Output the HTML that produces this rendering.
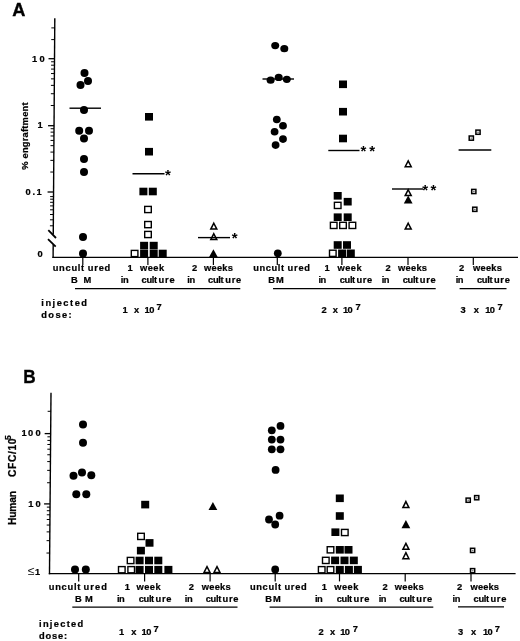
<!DOCTYPE html>
<html><head><meta charset="utf-8"><title>Figure</title>
<style>
html,body{margin:0;padding:0;background:#fff;}
.b{stroke:#000;stroke-width:0.22px;}
svg{display:block;font-family:"Liberation Sans",sans-serif;fill:#000;opacity:0.999;will-change:transform;}
</style></head>
<body>
<svg width="520" height="641" viewBox="0 0 520 641" shape-rendering="geometricPrecision">
<rect x="0" y="0" width="520" height="641" fill="#fff"/>
<line x1="54.80" y1="18.20" x2="53.26" y2="234.60" stroke="#000" stroke-width="1.4"/>
<line x1="53.19" y1="244.40" x2="53.10" y2="257.95" stroke="#000" stroke-width="1.4"/>
<line x1="52.40" y1="257.30" x2="518.00" y2="257.30" stroke="#000" stroke-width="1.3"/>
<line x1="48.04" y1="125.70" x2="54.04" y2="125.70" stroke="#000" stroke-width="1.3"/>
<line x1="47.56" y1="192.00" x2="53.56" y2="192.00" stroke="#000" stroke-width="1.3"/>
<line x1="50.78" y1="105.53" x2="54.18" y2="105.53" stroke="#000" stroke-width="1.0"/>
<line x1="50.31" y1="172.04" x2="53.71" y2="172.04" stroke="#000" stroke-width="1.0"/>
<line x1="50.86" y1="93.73" x2="54.26" y2="93.73" stroke="#000" stroke-width="1.0"/>
<line x1="50.39" y1="160.37" x2="53.79" y2="160.37" stroke="#000" stroke-width="1.0"/>
<line x1="50.92" y1="85.36" x2="54.32" y2="85.36" stroke="#000" stroke-width="1.0"/>
<line x1="50.45" y1="152.08" x2="53.85" y2="152.08" stroke="#000" stroke-width="1.0"/>
<line x1="50.97" y1="78.87" x2="54.37" y2="78.87" stroke="#000" stroke-width="1.0"/>
<line x1="50.49" y1="145.66" x2="53.89" y2="145.66" stroke="#000" stroke-width="1.0"/>
<line x1="51.01" y1="73.56" x2="54.41" y2="73.56" stroke="#000" stroke-width="1.0"/>
<line x1="50.53" y1="140.41" x2="53.93" y2="140.41" stroke="#000" stroke-width="1.0"/>
<line x1="51.04" y1="69.08" x2="54.44" y2="69.08" stroke="#000" stroke-width="1.0"/>
<line x1="50.56" y1="135.97" x2="53.96" y2="135.97" stroke="#000" stroke-width="1.0"/>
<line x1="51.07" y1="65.19" x2="54.47" y2="65.19" stroke="#000" stroke-width="1.0"/>
<line x1="50.59" y1="132.13" x2="53.99" y2="132.13" stroke="#000" stroke-width="1.0"/>
<line x1="51.09" y1="61.77" x2="54.49" y2="61.77" stroke="#000" stroke-width="1.0"/>
<line x1="50.61" y1="128.73" x2="54.01" y2="128.73" stroke="#000" stroke-width="1.0"/>
<line x1="48.51" y1="58.70" x2="54.51" y2="58.70" stroke="#000" stroke-width="1.3"/>
<line x1="51.25" y1="39.60" x2="54.65" y2="39.60" stroke="#000" stroke-width="1.0"/>
<line x1="51.33" y1="27.90" x2="54.73" y2="27.90" stroke="#000" stroke-width="1.0"/>
<line x1="50.13" y1="196.60" x2="53.53" y2="196.60" stroke="#000" stroke-width="1.0"/>
<line x1="50.11" y1="199.20" x2="53.51" y2="199.20" stroke="#000" stroke-width="1.0"/>
<line x1="50.09" y1="202.30" x2="53.49" y2="202.30" stroke="#000" stroke-width="1.0"/>
<line x1="50.07" y1="205.90" x2="53.47" y2="205.90" stroke="#000" stroke-width="1.0"/>
<line x1="50.04" y1="209.80" x2="53.44" y2="209.80" stroke="#000" stroke-width="1.0"/>
<line x1="50.00" y1="214.50" x2="53.40" y2="214.50" stroke="#000" stroke-width="1.0"/>
<line x1="49.97" y1="219.80" x2="53.37" y2="219.80" stroke="#000" stroke-width="1.0"/>
<line x1="49.92" y1="225.80" x2="53.32" y2="225.80" stroke="#000" stroke-width="1.0"/>
<line x1="48.30" y1="230.20" x2="56.00" y2="238.00" stroke="#000" stroke-width="1.8"/>
<line x1="48.00" y1="239.10" x2="55.70" y2="246.70" stroke="#000" stroke-width="1.8"/>
<text y="61.50" font-size="9.3" font-weight="bold" class="b"><tspan x="32.00">1</tspan><tspan x="39.60">0</tspan></text>
<text x="37.60" y="128.10" font-size="9.3" font-weight="bold" class="b" >1</text>
<text y="194.70" font-size="9.3" font-weight="bold" class="b"><tspan x="25.40">0</tspan><tspan x="32.50">.</tspan><tspan x="36.60">1</tspan></text>
<text x="37.60" y="257.20" font-size="9.3" font-weight="bold" class="b" >0</text>
<text transform="translate(28.1,169.8) rotate(-90)" class="b" font-size="9.4" font-weight="bold" textLength="67.4" lengthAdjust="spacing">% engraftment</text>
<text x="12.3" y="15.6" font-size="18.2" font-weight="bold" stroke="#000" stroke-width="0.35">A</text>
<ellipse cx="84.5" cy="73.0" rx="4.0" ry="4.0" fill="#000"/>
<ellipse cx="88.0" cy="81.0" rx="4.0" ry="4.0" fill="#000"/>
<ellipse cx="80.5" cy="85.0" rx="4.0" ry="4.0" fill="#000"/>
<ellipse cx="84.0" cy="110.0" rx="4.0" ry="4.0" fill="#000"/>
<ellipse cx="79.2" cy="130.8" rx="4.0" ry="4.0" fill="#000"/>
<ellipse cx="89.0" cy="130.8" rx="4.0" ry="4.0" fill="#000"/>
<ellipse cx="84.0" cy="138.5" rx="4.0" ry="4.0" fill="#000"/>
<ellipse cx="84.0" cy="159.0" rx="4.0" ry="4.0" fill="#000"/>
<ellipse cx="84.0" cy="172.0" rx="4.0" ry="4.0" fill="#000"/>
<ellipse cx="83.0" cy="237.0" rx="4.0" ry="4.0" fill="#000"/>
<ellipse cx="83.0" cy="253.5" rx="4.0" ry="4.0" fill="#000"/>
<line x1="69.50" y1="108.20" x2="101.00" y2="108.20" stroke="#000" stroke-width="1.4"/>
<rect x="145.00" y="113.00" width="8.0" height="7.6" fill="#000"/>
<rect x="145.00" y="147.90" width="8.0" height="7.6" fill="#000"/>
<rect x="139.40" y="187.70" width="8.0" height="7.6" fill="#000"/>
<rect x="148.80" y="187.70" width="8.0" height="7.6" fill="#000"/>
<rect x="144.70" y="206.40" width="6.60" height="6.20" fill="#fff" stroke="#000" stroke-width="1.4"/>
<rect x="144.70" y="221.50" width="6.60" height="6.20" fill="#fff" stroke="#000" stroke-width="1.4"/>
<rect x="144.70" y="231.40" width="6.60" height="6.20" fill="#fff" stroke="#000" stroke-width="1.4"/>
<rect x="131.30" y="250.40" width="6.60" height="6.20" fill="#fff" stroke="#000" stroke-width="1.4"/>
<rect x="140.10" y="241.80" width="8.0" height="7.6" fill="#000"/>
<rect x="149.70" y="241.80" width="8.0" height="7.6" fill="#000"/>
<rect x="140.10" y="249.70" width="8.0" height="7.6" fill="#000"/>
<rect x="149.70" y="249.70" width="8.0" height="7.6" fill="#000"/>
<rect x="158.70" y="249.70" width="8.0" height="7.6" fill="#000"/>
<line x1="132.50" y1="173.70" x2="164.50" y2="173.70" stroke="#000" stroke-width="1.4"/>
<polygon points="213.80,223.25 216.80,229.05 210.80,229.05" fill="#fff" stroke="#000" stroke-width="1.5" stroke-linejoin="miter"/>
<polygon points="213.80,233.75 216.80,239.55 210.80,239.55" fill="#fff" stroke="#000" stroke-width="1.5" stroke-linejoin="miter"/>
<polygon points="213.40,249.20 217.80,257.20 209.00,257.20" fill="#000"/>
<line x1="198.00" y1="237.60" x2="230.00" y2="237.60" stroke="#000" stroke-width="1.4"/>
<ellipse cx="275.2" cy="45.6" rx="4.0" ry="3.6" fill="#000"/>
<ellipse cx="284.3" cy="48.7" rx="4.0" ry="3.6" fill="#000"/>
<ellipse cx="270.6" cy="80.2" rx="4.0" ry="3.6" fill="#000"/>
<ellipse cx="278.7" cy="77.4" rx="4.0" ry="3.6" fill="#000"/>
<ellipse cx="286.8" cy="79.3" rx="4.0" ry="3.6" fill="#000"/>
<ellipse cx="276.8" cy="119.5" rx="3.9" ry="3.8" fill="#000"/>
<ellipse cx="283.0" cy="125.7" rx="3.9" ry="3.8" fill="#000"/>
<ellipse cx="274.6" cy="131.7" rx="3.9" ry="3.8" fill="#000"/>
<ellipse cx="283.0" cy="139.1" rx="3.9" ry="3.8" fill="#000"/>
<ellipse cx="275.6" cy="145.1" rx="3.9" ry="3.8" fill="#000"/>
<ellipse cx="277.8" cy="253.3" rx="3.9" ry="3.8" fill="#000"/>
<line x1="262.50" y1="79.00" x2="294.00" y2="79.00" stroke="#000" stroke-width="1.4"/>
<rect x="339.00" y="80.50" width="8.0" height="7.6" fill="#000"/>
<rect x="339.00" y="107.90" width="8.0" height="7.6" fill="#000"/>
<rect x="339.00" y="134.70" width="8.0" height="7.6" fill="#000"/>
<rect x="333.70" y="192.00" width="8.0" height="7.6" fill="#000"/>
<rect x="343.70" y="197.90" width="8.0" height="7.6" fill="#000"/>
<rect x="333.70" y="213.40" width="8.0" height="7.6" fill="#000"/>
<rect x="343.70" y="213.40" width="8.0" height="7.6" fill="#000"/>
<rect x="333.70" y="241.20" width="8.0" height="7.6" fill="#000"/>
<rect x="343.00" y="241.20" width="8.0" height="7.6" fill="#000"/>
<rect x="338.10" y="249.50" width="8.0" height="7.6" fill="#000"/>
<rect x="346.80" y="249.50" width="8.0" height="7.6" fill="#000"/>
<rect x="334.40" y="202.30" width="6.60" height="6.20" fill="#fff" stroke="#000" stroke-width="1.4"/>
<rect x="330.40" y="222.30" width="6.60" height="6.20" fill="#fff" stroke="#000" stroke-width="1.4"/>
<rect x="339.70" y="222.30" width="6.60" height="6.20" fill="#fff" stroke="#000" stroke-width="1.4"/>
<rect x="349.10" y="222.30" width="6.60" height="6.20" fill="#fff" stroke="#000" stroke-width="1.4"/>
<rect x="329.50" y="250.20" width="6.60" height="6.20" fill="#fff" stroke="#000" stroke-width="1.4"/>
<line x1="328.30" y1="150.50" x2="359.50" y2="150.50" stroke="#000" stroke-width="1.4"/>
<polygon points="408.20,160.95 411.20,166.75 405.20,166.75" fill="#fff" stroke="#000" stroke-width="1.5" stroke-linejoin="miter"/>
<polygon points="408.20,189.75 411.20,195.55 405.20,195.55" fill="#fff" stroke="#000" stroke-width="1.5" stroke-linejoin="miter"/>
<polygon points="408.20,195.40 412.60,203.40 403.80,203.40" fill="#000"/>
<polygon points="408.20,223.25 411.20,229.05 405.20,229.05" fill="#fff" stroke="#000" stroke-width="1.5" stroke-linejoin="miter"/>
<line x1="392.00" y1="189.00" x2="423.00" y2="189.00" stroke="#000" stroke-width="1.4"/>
<rect x="475.90" y="130.10" width="4.20" height="4.20" fill="#fff" stroke="#000" stroke-width="1.5"/>
<rect x="477.20" y="131.60" width="1.7" height="1.3" fill="#777"/>
<rect x="469.20" y="136.00" width="4.20" height="4.20" fill="#fff" stroke="#000" stroke-width="1.5"/>
<rect x="470.50" y="137.50" width="1.7" height="1.3" fill="#777"/>
<rect x="471.70" y="189.40" width="4.20" height="4.20" fill="#fff" stroke="#000" stroke-width="1.5"/>
<rect x="473.00" y="190.90" width="1.7" height="1.3" fill="#777"/>
<rect x="472.70" y="207.20" width="4.20" height="4.20" fill="#fff" stroke="#000" stroke-width="1.5"/>
<rect x="474.00" y="208.70" width="1.7" height="1.3" fill="#777"/>
<line x1="458.60" y1="150.00" x2="491.30" y2="150.00" stroke="#000" stroke-width="1.4"/>
<text x="167.90" y="180.10" font-size="15" font-weight="bold" text-anchor="middle">*</text>
<text x="234.60" y="242.80" font-size="15" font-weight="bold" text-anchor="middle">*</text>
<text y="155.60" font-size="15" font-weight="bold" text-anchor="middle"><tspan x="363.40">*</tspan><tspan x="372.10">*</tspan></text>
<text y="194.60" font-size="15" font-weight="bold" text-anchor="middle"><tspan x="425.20">*</tspan><tspan x="433.50">*</tspan></text>
<line x1="82.80" y1="257.30" x2="82.80" y2="265.10" stroke="#000" stroke-width="1.2"/>
<line x1="147.90" y1="257.30" x2="147.90" y2="265.10" stroke="#000" stroke-width="1.2"/>
<line x1="213.40" y1="257.30" x2="213.40" y2="265.10" stroke="#000" stroke-width="1.2"/>
<line x1="277.30" y1="257.30" x2="277.30" y2="265.10" stroke="#000" stroke-width="1.2"/>
<line x1="341.90" y1="257.30" x2="341.90" y2="265.10" stroke="#000" stroke-width="1.2"/>
<line x1="408.00" y1="257.30" x2="408.00" y2="265.10" stroke="#000" stroke-width="1.2"/>
<line x1="473.30" y1="257.30" x2="473.30" y2="265.10" stroke="#000" stroke-width="1.2"/>
<text y="270.70" font-size="9.3" font-weight="bold" class="b"><tspan x="52.70" textLength="31.50" lengthAdjust="spacing">uncult</tspan><tspan x="87.70" textLength="22.60" lengthAdjust="spacing">ured</tspan></text>
<text y="282.90" font-size="9.3" font-weight="bold" class="b"><tspan x="71.00">B</tspan><tspan x="83.60">M</tspan></text>
<text y="270.70" font-size="9.3" font-weight="bold" class="b"><tspan x="127.60">1</tspan> <tspan x="140.00" textLength="24.20" lengthAdjust="spacing">week</tspan></text>
<text y="282.90" font-size="9.3" font-weight="bold" class="b"><tspan x="120.80" textLength="7.80" lengthAdjust="spacing">in</tspan> <tspan x="141.60" textLength="15.40" lengthAdjust="spacing">cult</tspan><tspan x="158.50" textLength="16.10" lengthAdjust="spacing">ure</tspan></text>
<text y="270.70" font-size="9.3" font-weight="bold" class="b"><tspan x="192.00">2</tspan> <tspan x="204.00" textLength="28.90" lengthAdjust="spacing">weeks</tspan></text>
<text y="282.90" font-size="9.3" font-weight="bold" class="b"><tspan x="187.30" textLength="7.80" lengthAdjust="spacing">in</tspan> <tspan x="208.10" textLength="15.50" lengthAdjust="spacing">cult</tspan><tspan x="225.20" textLength="16.00" lengthAdjust="spacing">ure</tspan></text>
<text y="270.70" font-size="9.3" font-weight="bold" class="b"><tspan x="253.20" textLength="30.80" lengthAdjust="spacing">uncult</tspan><tspan x="287.60" textLength="22.40" lengthAdjust="spacing">ured</tspan></text>
<text y="282.90" font-size="9.3" font-weight="bold" class="b"><tspan x="268.30">B</tspan><tspan x="276.00">M</tspan></text>
<text y="270.70" font-size="9.3" font-weight="bold" class="b"><tspan x="324.40">1</tspan> <tspan x="337.60" textLength="24.00" lengthAdjust="spacing">week</tspan></text>
<text y="282.90" font-size="9.3" font-weight="bold" class="b"><tspan x="318.50" textLength="7.80" lengthAdjust="spacing">in</tspan> <tspan x="339.80" textLength="15.40" lengthAdjust="spacing">cult</tspan><tspan x="356.60" textLength="15.60" lengthAdjust="spacing">ure</tspan></text>
<text y="270.70" font-size="9.3" font-weight="bold" class="b"><tspan x="385.60">2</tspan> <tspan x="398.10" textLength="28.90" lengthAdjust="spacing">weeks</tspan></text>
<text y="282.90" font-size="9.3" font-weight="bold" class="b"><tspan x="381.70" textLength="7.80" lengthAdjust="spacing">in</tspan> <tspan x="402.80" textLength="15.50" lengthAdjust="spacing">cult</tspan><tspan x="419.80" textLength="15.80" lengthAdjust="spacing">ure</tspan></text>
<text y="270.70" font-size="9.3" font-weight="bold" class="b"><tspan x="459.10">2</tspan> <tspan x="473.00" textLength="28.90" lengthAdjust="spacing">weeks</tspan></text>
<text y="282.90" font-size="9.3" font-weight="bold" class="b"><tspan x="455.70" textLength="7.80" lengthAdjust="spacing">in</tspan> <tspan x="477.00" textLength="15.50" lengthAdjust="spacing">cult</tspan><tspan x="494.00" textLength="15.80" lengthAdjust="spacing">ure</tspan></text>
<line x1="75.00" y1="288.60" x2="240.30" y2="288.60" stroke="#000" stroke-width="1.25"/>
<line x1="273.00" y1="288.60" x2="435.70" y2="288.60" stroke="#000" stroke-width="1.25"/>
<line x1="459.60" y1="288.60" x2="506.50" y2="288.60" stroke="#000" stroke-width="1.25"/>
<text y="305.60" font-size="9.3" font-weight="bold" class="b"><tspan x="41.30" textLength="45.70" lengthAdjust="spacing">injected</tspan></text>
<text y="317.90" font-size="9.3" font-weight="bold" class="b"><tspan x="41.30" textLength="30.30" lengthAdjust="spacing">dose:</tspan></text>
<text y="313.40" font-size="9.3" font-weight="bold" class="b"><tspan x="122.60">1</tspan> <tspan x="134.00">x</tspan> <tspan x="144.60">1</tspan><tspan x="149.20">0</tspan><tspan x="156.60" dy="-3">7</tspan></text>
<text y="313.40" font-size="9.3" font-weight="bold" class="b"><tspan x="321.40">2</tspan> <tspan x="332.80">x</tspan> <tspan x="343.00">1</tspan><tspan x="347.60">0</tspan><tspan x="355.40" dy="-3">7</tspan></text>
<text y="313.40" font-size="9.3" font-weight="bold" class="b"><tspan x="460.60">3</tspan> <tspan x="473.80">x</tspan> <tspan x="485.20">1</tspan><tspan x="489.80">0</tspan><tspan x="497.40" dy="-3">7</tspan></text>
<line x1="51.00" y1="392.80" x2="49.49" y2="574.25" stroke="#000" stroke-width="1.4"/>
<line x1="48.80" y1="573.60" x2="515.60" y2="573.60" stroke="#000" stroke-width="1.3"/>
<line x1="46.47" y1="553.04" x2="49.67" y2="553.04" stroke="#000" stroke-width="1.0"/>
<line x1="46.57" y1="540.66" x2="49.77" y2="540.66" stroke="#000" stroke-width="1.0"/>
<line x1="46.64" y1="531.88" x2="49.84" y2="531.88" stroke="#000" stroke-width="1.0"/>
<line x1="46.70" y1="525.06" x2="49.90" y2="525.06" stroke="#000" stroke-width="1.0"/>
<line x1="46.75" y1="519.50" x2="49.95" y2="519.50" stroke="#000" stroke-width="1.0"/>
<line x1="46.79" y1="514.79" x2="49.99" y2="514.79" stroke="#000" stroke-width="1.0"/>
<line x1="46.82" y1="510.71" x2="50.02" y2="510.71" stroke="#000" stroke-width="1.0"/>
<line x1="46.85" y1="507.12" x2="50.05" y2="507.12" stroke="#000" stroke-width="1.0"/>
<line x1="44.08" y1="503.90" x2="50.08" y2="503.90" stroke="#000" stroke-width="1.3"/>
<line x1="47.05" y1="482.74" x2="50.25" y2="482.74" stroke="#000" stroke-width="1.0"/>
<line x1="47.16" y1="470.36" x2="50.36" y2="470.36" stroke="#000" stroke-width="1.0"/>
<line x1="47.23" y1="461.58" x2="50.43" y2="461.58" stroke="#000" stroke-width="1.0"/>
<line x1="47.29" y1="454.76" x2="50.49" y2="454.76" stroke="#000" stroke-width="1.0"/>
<line x1="47.33" y1="449.20" x2="50.53" y2="449.20" stroke="#000" stroke-width="1.0"/>
<line x1="47.37" y1="444.49" x2="50.57" y2="444.49" stroke="#000" stroke-width="1.0"/>
<line x1="47.40" y1="440.41" x2="50.60" y2="440.41" stroke="#000" stroke-width="1.0"/>
<line x1="47.43" y1="436.82" x2="50.63" y2="436.82" stroke="#000" stroke-width="1.0"/>
<line x1="44.66" y1="433.60" x2="50.66" y2="433.60" stroke="#000" stroke-width="1.3"/>
<line x1="47.65" y1="411.30" x2="50.85" y2="411.30" stroke="#000" stroke-width="1.0"/>
<text y="436.20" font-size="9.3" font-weight="bold" class="b"><tspan x="21.60">1</tspan><tspan x="28.10">0</tspan><tspan x="35.60">0</tspan></text>
<text y="506.70" font-size="9.3" font-weight="bold" class="b"><tspan x="28.20">1</tspan><tspan x="35.50">0</tspan></text>
<text y="574.8" font-size="12.2"><tspan x="28.0">≤</tspan><tspan x="35.0" dy="0.4" font-size="9.2" font-weight="bold" class="b">1</tspan></text>
<text transform="translate(16.0,524.9) rotate(-90)" class="b" font-size="10.3" font-weight="bold"><tspan x="0" textLength="34.0" lengthAdjust="spacing">Human</tspan> <tspan x="47.9" textLength="38.6" lengthAdjust="spacing">CFC/10</tspan><tspan x="84.9" dy="-5.2" font-size="8.6">5</tspan></text>
<text x="23.3" y="383.0" font-size="18.6" font-weight="bold" stroke="#000" stroke-width="0.35" textLength="12.4" lengthAdjust="spacingAndGlyphs">B</text>
<ellipse cx="83.0" cy="424.5" rx="4.0" ry="4.0" fill="#000"/>
<ellipse cx="83.0" cy="442.8" rx="4.0" ry="4.0" fill="#000"/>
<ellipse cx="73.5" cy="475.8" rx="4.0" ry="4.0" fill="#000"/>
<ellipse cx="82.0" cy="472.5" rx="4.0" ry="4.0" fill="#000"/>
<ellipse cx="91.3" cy="475.3" rx="4.0" ry="4.0" fill="#000"/>
<ellipse cx="76.3" cy="494.3" rx="4.0" ry="4.0" fill="#000"/>
<ellipse cx="86.3" cy="494.3" rx="4.0" ry="4.0" fill="#000"/>
<ellipse cx="75.0" cy="569.4" rx="4.0" ry="4.0" fill="#000"/>
<ellipse cx="85.8" cy="569.4" rx="4.0" ry="4.0" fill="#000"/>
<rect x="141.20" y="500.80" width="8.0" height="7.6" fill="#000"/>
<rect x="145.50" y="539.10" width="8.0" height="7.6" fill="#000"/>
<rect x="136.90" y="546.80" width="8.0" height="7.6" fill="#000"/>
<rect x="135.60" y="556.70" width="8.0" height="7.6" fill="#000"/>
<rect x="145.00" y="556.70" width="8.0" height="7.6" fill="#000"/>
<rect x="154.30" y="556.70" width="8.0" height="7.6" fill="#000"/>
<rect x="135.60" y="565.90" width="8.0" height="7.6" fill="#000"/>
<rect x="145.00" y="565.90" width="8.0" height="7.6" fill="#000"/>
<rect x="154.30" y="565.90" width="8.0" height="7.6" fill="#000"/>
<rect x="164.40" y="565.90" width="8.0" height="7.6" fill="#000"/>
<rect x="137.70" y="533.30" width="6.60" height="6.20" fill="#fff" stroke="#000" stroke-width="1.4"/>
<rect x="127.30" y="557.40" width="6.60" height="6.20" fill="#fff" stroke="#000" stroke-width="1.4"/>
<rect x="118.50" y="566.60" width="6.60" height="6.20" fill="#fff" stroke="#000" stroke-width="1.4"/>
<rect x="127.90" y="566.60" width="6.60" height="6.20" fill="#fff" stroke="#000" stroke-width="1.4"/>
<polygon points="212.90,501.90 217.30,510.10 208.50,510.10" fill="#000"/>
<polygon points="207.00,566.65 210.00,572.45 204.00,572.45" fill="#fff" stroke="#000" stroke-width="1.5" stroke-linejoin="miter"/>
<polygon points="217.00,566.65 220.00,572.45 214.00,572.45" fill="#fff" stroke="#000" stroke-width="1.5" stroke-linejoin="miter"/>
<ellipse cx="280.5" cy="425.9" rx="3.9" ry="3.9" fill="#000"/>
<ellipse cx="271.8" cy="430.3" rx="3.9" ry="3.9" fill="#000"/>
<ellipse cx="271.8" cy="439.6" rx="3.9" ry="3.9" fill="#000"/>
<ellipse cx="280.5" cy="439.6" rx="3.9" ry="3.9" fill="#000"/>
<ellipse cx="271.8" cy="449.3" rx="3.9" ry="3.9" fill="#000"/>
<ellipse cx="280.5" cy="449.3" rx="3.9" ry="3.9" fill="#000"/>
<ellipse cx="275.6" cy="469.9" rx="3.9" ry="3.9" fill="#000"/>
<ellipse cx="279.6" cy="515.7" rx="3.9" ry="3.9" fill="#000"/>
<ellipse cx="269.0" cy="519.5" rx="3.9" ry="3.9" fill="#000"/>
<ellipse cx="275.2" cy="524.5" rx="3.9" ry="3.9" fill="#000"/>
<ellipse cx="275.2" cy="569.4" rx="3.9" ry="3.9" fill="#000"/>
<rect x="335.80" y="494.50" width="8.0" height="7.6" fill="#000"/>
<rect x="335.80" y="512.20" width="8.0" height="7.6" fill="#000"/>
<rect x="331.40" y="528.40" width="8.0" height="7.6" fill="#000"/>
<rect x="335.80" y="546.00" width="8.0" height="7.6" fill="#000"/>
<rect x="344.50" y="546.00" width="8.0" height="7.6" fill="#000"/>
<rect x="331.10" y="556.60" width="8.0" height="7.6" fill="#000"/>
<rect x="340.50" y="556.60" width="8.0" height="7.6" fill="#000"/>
<rect x="349.80" y="556.60" width="8.0" height="7.6" fill="#000"/>
<rect x="335.80" y="565.90" width="8.0" height="7.6" fill="#000"/>
<rect x="344.90" y="565.90" width="8.0" height="7.6" fill="#000"/>
<rect x="353.90" y="565.90" width="8.0" height="7.6" fill="#000"/>
<rect x="341.50" y="529.40" width="6.60" height="6.20" fill="#fff" stroke="#000" stroke-width="1.4"/>
<rect x="327.20" y="546.70" width="6.60" height="6.20" fill="#fff" stroke="#000" stroke-width="1.4"/>
<rect x="322.50" y="557.30" width="6.60" height="6.20" fill="#fff" stroke="#000" stroke-width="1.4"/>
<rect x="318.40" y="566.60" width="6.60" height="6.20" fill="#fff" stroke="#000" stroke-width="1.4"/>
<rect x="327.20" y="566.60" width="6.60" height="6.20" fill="#fff" stroke="#000" stroke-width="1.4"/>
<polygon points="405.90,501.55 408.90,507.55 402.90,507.55" fill="#fff" stroke="#000" stroke-width="1.5" stroke-linejoin="miter"/>
<polygon points="405.90,520.10 410.30,528.30 401.50,528.30" fill="#000"/>
<polygon points="405.90,543.35 408.90,549.35 402.90,549.35" fill="#fff" stroke="#000" stroke-width="1.5" stroke-linejoin="miter"/>
<polygon points="405.90,552.65 408.90,558.65 402.90,558.65" fill="#fff" stroke="#000" stroke-width="1.5" stroke-linejoin="miter"/>
<rect x="466.10" y="498.10" width="4.20" height="4.20" fill="#fff" stroke="#000" stroke-width="1.5"/>
<rect x="467.40" y="499.60" width="1.7" height="1.3" fill="#777"/>
<rect x="474.60" y="495.60" width="4.20" height="4.20" fill="#fff" stroke="#000" stroke-width="1.5"/>
<rect x="475.90" y="497.10" width="1.7" height="1.3" fill="#777"/>
<rect x="470.50" y="548.30" width="4.20" height="4.20" fill="#fff" stroke="#000" stroke-width="1.5"/>
<rect x="471.80" y="549.80" width="1.7" height="1.3" fill="#777"/>
<rect x="470.50" y="568.60" width="4.20" height="4.20" fill="#fff" stroke="#000" stroke-width="1.5"/>
<rect x="471.80" y="570.10" width="1.7" height="1.3" fill="#777"/>
<line x1="78.70" y1="573.60" x2="78.70" y2="581.40" stroke="#000" stroke-width="1.2"/>
<line x1="144.60" y1="573.60" x2="144.60" y2="581.40" stroke="#000" stroke-width="1.2"/>
<line x1="210.10" y1="573.60" x2="210.10" y2="581.40" stroke="#000" stroke-width="1.2"/>
<line x1="275.20" y1="573.60" x2="275.20" y2="581.40" stroke="#000" stroke-width="1.2"/>
<line x1="339.50" y1="573.60" x2="339.50" y2="581.40" stroke="#000" stroke-width="1.2"/>
<line x1="405.20" y1="573.60" x2="405.20" y2="581.40" stroke="#000" stroke-width="1.2"/>
<line x1="471.00" y1="573.60" x2="471.00" y2="581.40" stroke="#000" stroke-width="1.2"/>
<text y="589.80" font-size="9.3" font-weight="bold" class="b"><tspan x="48.80" textLength="31.50" lengthAdjust="spacing">uncult</tspan><tspan x="83.60" textLength="23.40" lengthAdjust="spacing">ured</tspan></text>
<text y="602.40" font-size="9.3" font-weight="bold" class="b"><tspan x="75.00">B</tspan><tspan x="84.90">M</tspan></text>
<text y="589.80" font-size="9.3" font-weight="bold" class="b"><tspan x="124.80">1</tspan> <tspan x="136.60" textLength="24.00" lengthAdjust="spacing">week</tspan></text>
<text y="602.40" font-size="9.3" font-weight="bold" class="b"><tspan x="117.00" textLength="7.80" lengthAdjust="spacing">in</tspan> <tspan x="138.80" textLength="15.40" lengthAdjust="spacing">cult</tspan><tspan x="155.60" textLength="15.80" lengthAdjust="spacing">ure</tspan></text>
<text y="589.80" font-size="9.3" font-weight="bold" class="b"><tspan x="188.80">2</tspan> <tspan x="201.80" textLength="28.90" lengthAdjust="spacing">weeks</tspan></text>
<text y="602.40" font-size="9.3" font-weight="bold" class="b"><tspan x="184.80" textLength="7.80" lengthAdjust="spacing">in</tspan> <tspan x="205.80" textLength="15.50" lengthAdjust="spacing">cult</tspan><tspan x="222.60" textLength="15.80" lengthAdjust="spacing">ure</tspan></text>
<text y="589.80" font-size="9.3" font-weight="bold" class="b"><tspan x="250.00" textLength="31.00" lengthAdjust="spacing">uncult</tspan><tspan x="284.40" textLength="22.40" lengthAdjust="spacing">ured</tspan></text>
<text y="602.40" font-size="9.3" font-weight="bold" class="b"><tspan x="265.30">B</tspan><tspan x="273.00">M</tspan></text>
<text y="589.80" font-size="9.3" font-weight="bold" class="b"><tspan x="321.70">1</tspan> <tspan x="334.30" textLength="24.00" lengthAdjust="spacing">week</tspan></text>
<text y="602.40" font-size="9.3" font-weight="bold" class="b"><tspan x="315.00" textLength="7.80" lengthAdjust="spacing">in</tspan> <tspan x="336.80" textLength="15.40" lengthAdjust="spacing">cult</tspan><tspan x="353.60" textLength="15.80" lengthAdjust="spacing">ure</tspan></text>
<text y="589.80" font-size="9.3" font-weight="bold" class="b"><tspan x="382.40">2</tspan> <tspan x="394.80" textLength="28.90" lengthAdjust="spacing">weeks</tspan></text>
<text y="602.40" font-size="9.3" font-weight="bold" class="b"><tspan x="378.70" textLength="7.80" lengthAdjust="spacing">in</tspan> <tspan x="399.40" textLength="15.50" lengthAdjust="spacing">cult</tspan><tspan x="416.20" textLength="16.00" lengthAdjust="spacing">ure</tspan></text>
<text y="589.80" font-size="9.3" font-weight="bold" class="b"><tspan x="457.00">2</tspan> <tspan x="470.50" textLength="28.50" lengthAdjust="spacing">weeks</tspan></text>
<text y="602.40" font-size="9.3" font-weight="bold" class="b"><tspan x="452.60" textLength="7.80" lengthAdjust="spacing">in</tspan> <tspan x="473.60" textLength="15.50" lengthAdjust="spacing">cult</tspan><tspan x="490.40" textLength="16.00" lengthAdjust="spacing">ure</tspan></text>
<line x1="72.30" y1="607.00" x2="237.50" y2="607.00" stroke="#000" stroke-width="1.25"/>
<line x1="269.60" y1="607.00" x2="433.30" y2="607.00" stroke="#000" stroke-width="1.25"/>
<line x1="458.00" y1="606.90" x2="504.00" y2="606.90" stroke="#000" stroke-width="1.25"/>
<text y="626.50" font-size="9.3" font-weight="bold" class="b"><tspan x="39.00" textLength="44.20" lengthAdjust="spacing">injected</tspan></text>
<text y="639.00" font-size="9.3" font-weight="bold" class="b"><tspan x="39.00" textLength="28.20" lengthAdjust="spacing">dose:</tspan></text>
<text y="635.40" font-size="9.3" font-weight="bold" class="b"><tspan x="119.00">1</tspan> <tspan x="131.20">x</tspan> <tspan x="141.60">1</tspan><tspan x="146.20">0</tspan><tspan x="153.50" dy="-3">7</tspan></text>
<text y="635.40" font-size="9.3" font-weight="bold" class="b"><tspan x="318.40">2</tspan> <tspan x="330.00">x</tspan> <tspan x="340.20">1</tspan><tspan x="344.80">0</tspan><tspan x="352.80" dy="-3">7</tspan></text>
<text y="635.40" font-size="9.3" font-weight="bold" class="b"><tspan x="458.00">3</tspan> <tspan x="471.00">x</tspan> <tspan x="483.00">1</tspan><tspan x="487.60">0</tspan><tspan x="494.80" dy="-3">7</tspan></text>
</svg>
</body></html>
